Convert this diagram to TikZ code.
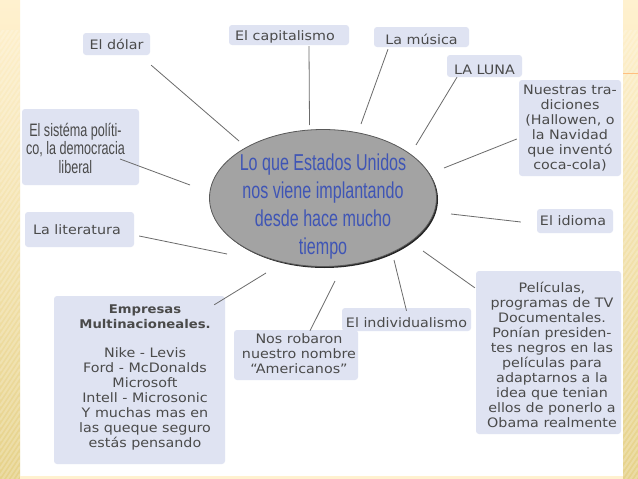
\documentclass[tikz,border=0pt]{standalone}
\usepackage{fontspec}
\setmainfont[FakeStretch=1.1]{DejaVu Sans}
\newfontfamily\narrowfont[FakeStretch=0.7]{Liberation Sans}
\usetikzlibrary{positioning,calc,shadows}
\usetikzlibrary{shapes,shapes.geometric}
\definecolor{boxfill}{HTML}{DFE3F2}
\definecolor{boxtext}{HTML}{4A4A4A}
\definecolor{bluetext}{HTML}{3F55B5}
\definecolor{bandtop}{HTML}{FFF1CF}
\definecolor{bandmid}{HTML}{F3E1A0}
\definecolor{bandlow}{HTML}{E6D28A}
\newcommand{\shifttext}[2]{\hspace*{#1}\begin{tabular}{@{}c@{}}#2\end{tabular}}
\tikzstyle{centre} = [ellipse, draw=black!65, fill=black!36, line width=0.8pt, minimum width=227pt, minimum height=137pt, inner sep=-20pt, text centered, align=center, text=bluetext, font=\narrowfont\fontsize{23}{28}\selectfont, drop shadow={shadow xshift=1.5pt, shadow yshift=-1.5pt, fill=black, opacity=0.85}]
\tikzstyle{topic} = [rectangle, rounded corners=3pt, fill=boxfill, inner sep=0pt, text centered, align=center, text=boxtext, font=\fontsize{13}{15}\selectfont]
\tikzstyle{link} = [draw=black!58, line width=0.8pt]
\tikzstyle{band} = [top color=bandtop, middle color=bandmid, bottom color=bandlow, draw=none]
\begin{document}
\begin{tikzpicture}[x=1pt, y=1pt]
	% page and side bands
	\useasboundingbox (0,0) rectangle (638,-479);
	\fill [white] (0,0) rectangle (638,-479);
	\shade [band] (0,0) rectangle (20,-479);
	\shade [band] (623,0) rectangle (638,-479);
	\begin{scope}
		\clip (0,-30) rectangle (20,-479) (623,-30) rectangle (638,-479);
		\foreach \i in {0,7,...,511} {
			\draw [white, opacity=0.22, line width=2pt] (0,-\i) -- (20,-\i+30);
			\draw [white, opacity=0.22, line width=2pt] (623,-\i) -- (638,-\i+22);
		}
	\end{scope}
	\draw [orange!50, line width=0.4pt] (623,-73) -- (638,-73);
	\fill [bandtop] (20,-476) rectangle (623,-479);

	% central node
	\node [centre] (N0) at (323,-198) {\rule{0pt}{33pt}Lo que Estados Unidos\\nos viene implantando\\desde hace mucho\\tiempo};

	% topics round it
	\node [topic, above of=N0, node distance=154pt, xshift=-206.5pt, minimum width=67pt, minimum height=22pt]  (N1) {El dólar};
	\node [topic, above of=N0, node distance=163pt, xshift=-34pt, minimum width=120pt, minimum height=20pt, text height=11pt, text depth=0pt] (N2) {\hspace*{-8pt}El capitalismo};
	\node [topic, above of=N0, node distance=161pt, xshift=98.5pt, minimum width=95pt, minimum height=20pt, text height=14pt, text depth=0pt] (N3) {La música};
	\node [topic, above of=N0, node distance=132pt, xshift=161.5pt, minimum width=75pt, minimum height=22pt, text height=16.5pt, text depth=0pt] (N4) {LA LUNA};
	\node [topic, above of=N0, node distance=70pt, xshift=247pt, minimum width=102pt, minimum height=96pt]     (N5) {Nuestras tra-\\diciones\\(Hallowen, o\\la Navidad\\que inventó\\coca-cola)};
	\node [topic, below of=N0, node distance=23pt, xshift=252pt, minimum width=76pt, minimum height=24pt]      (N6) {\hspace*{-4pt}El idioma};
	\node [topic, above of=N0, node distance=51pt, xshift=-242.5pt, minimum width=117pt, minimum height=76pt, font=\narrowfont\fontsize{18}{18}\selectfont] (N7) {\shifttext{-10pt}{\rule{0pt}{20.6pt}El sistéma políti-\\co, la democracia\\liberal}};
	\node [topic, below of=N0, node distance=31.5pt, xshift=-243.5pt, minimum width=109pt, minimum height=35pt] (N8) {\hspace*{-5pt}La literatura};
	\node [topic, below of=N0, node distance=182pt, xshift=-183.5pt, minimum width=171pt, minimum height=168pt] (N9) {\shifttext{11pt}{{\fontsize{12}{15}\selectfont\textbf{Empresas}}\\{\fontsize{12}{15}\selectfont\textbf{Multinacioneales.}}\\[14pt]Nike - Levis\\Ford - McDonalds\\Microsoft\\Intell - Microsonic\\Y muchas mas en\\las queque seguro\\estás pensando\rule[-10.5pt]{0pt}{0pt}}};
	\node [topic, below of=N0, node distance=157pt, xshift=-27pt, minimum width=124pt, minimum height=50pt]    (N10) {\shifttext{6pt}{Nos robaron\\nuestro nombre\\“Americanos”}};
	\node [topic, below of=N0, node distance=121.5pt, xshift=83.5pt, minimum width=129pt, minimum height=23pt, text height=15pt, text depth=0pt] (N11) {El individualismo};
	\node [topic, below of=N0, node distance=154.5pt, xshift=225.5pt, minimum width=145pt, minimum height=163pt] (N12) {\shifttext{7pt}{\rule{0pt}{18.5pt}Películas,\\programas de TV\\Documentales.\\Ponían presiden-\\tes negros en las\\películas para\\adaptarnos a la\\idea que tenian\\ellos de ponerlo a\\Obama realmente}};

	% free ends next to the ellipse
	\coordinate (C1) at ($(N0)+(-84,57)$);
	\coordinate (C2) at ($(N0)+(-13.5,73)$);
	\coordinate (C3) at ($(N0)+(38,74)$);
	\coordinate (C4) at ($(N0)+(93,53)$);
	\coordinate (C5) at ($(N0)+(121,30)$);
	\coordinate (C6) at ($(N0)+(128,-16)$);
	\coordinate (C7) at ($(N0)+(-133,13)$);
	\coordinate (C8) at ($(N0)+(-96,-56)$);
	\coordinate (C9) at ($(N0)+(-57,-75)$);
	\coordinate (C10) at ($(N0)+(12,-83)$);
	\coordinate (C11) at ($(N0)+(71,-62)$);
	\coordinate (C12) at ($(N0)+(100,-53)$);

	% connectors
	\path [link] ($(N1.south east)+(1,-10)$) -- (C1);
	\path [link] ($(N2.south)+(20,-1)$) -- (C2);
	\path [link] ($(N3.south)+(-33.5,-2)$) -- (C3);
	\path [link] ($(N4.south)+(-27.5,0)$) -- (C4);
	\path [link] ($(N5.west)+(-2,-11)$) -- (C5);
	\path [link] ($(N6.west)+(-16,-1)$) -- (C6);
	\path [link] ($(N7.center)+(39.5,-12)$) -- (C7);
	\path [link] ($(N8.east)+(5,-6.5)$) -- (C8);
	\path [link] ($(N9.north east)+(-11,-9)$) -- (C9);
	\path [link] ($(N10.north)+(14,-1)$) -- (C10);
	\path [link] ($(N11.north)+(0,-3)$) -- (C11);
	\path [link] ($(N12.north west)+(-1,-17)$) -- (C12);
\end{tikzpicture}
\end{document}
